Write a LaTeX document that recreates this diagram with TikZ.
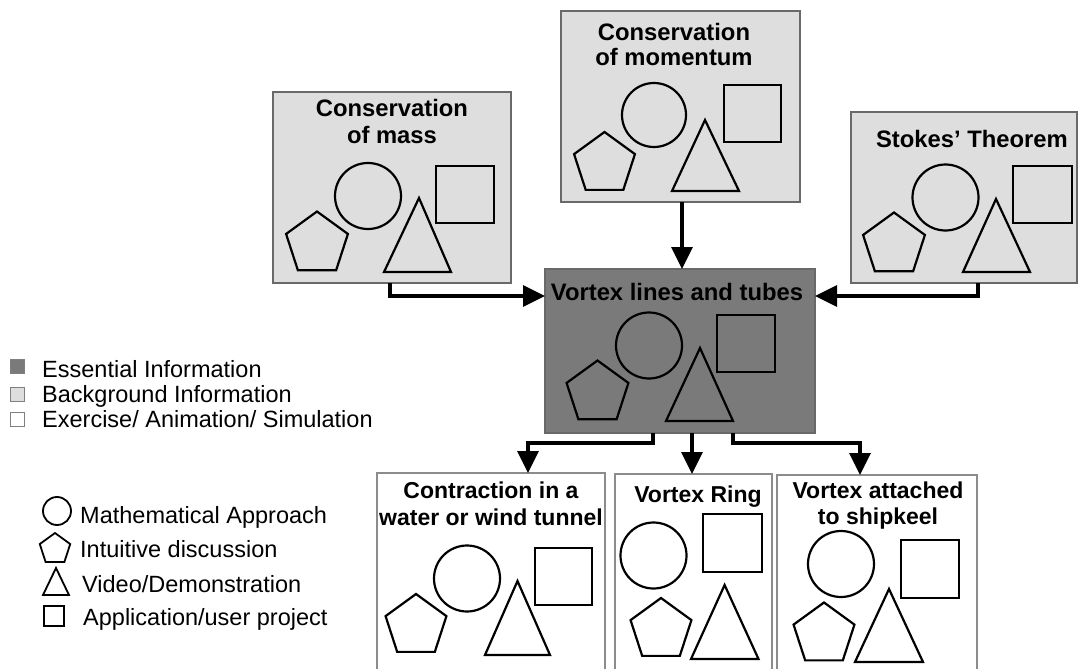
\documentclass[tikz,border=0pt]{standalone}
\usepackage{fontspec}
\setmainfont{Liberation Sans}
\usetikzlibrary{arrows.meta,shapes.geometric}

\definecolor{bglight}{RGB}{222,222,222}
\definecolor{essdark}{RGB}{122,122,122}
\definecolor{boxline}{RGB}{105,105,105}
\definecolor{exline}{RGB}{140,140,140}

\begin{document}
\begin{tikzpicture}[x=1pt,y=-1pt,
  panel/.style={draw=boxline, line width=1.2pt, inner sep=0pt, outer sep=0pt, anchor=north west},
  bgpanel/.style={panel, fill=bglight},
  esspanel/.style={panel, fill=essdark},
  expanel/.style={panel, draw=exline, fill=white},
  head/.style={font=\fontsize{23.8}{26}\selectfont\bfseries, inner sep=0pt, anchor=base},
  headsm/.style={head, font=\fontsize{23}{26}\selectfont\bfseries},
  shp/.style={draw=black, line width=2.2pt},
  pent/.style={shp, regular polygon, regular polygon sides=5, inner sep=0pt, outer sep=0pt},
  link/.style={line width=3.5pt, -{Triangle[length=22pt,width=21pt]}},
  key/.style={font=\fontsize{23.5}{26}\selectfont, inner sep=0pt, anchor=base west},
  swatch/.style={draw=gray, line width=1pt, minimum size=14pt, inner sep=0pt},
  keyshp/.style={draw=black, line width=1.8pt}
]
\clip (0,0) rectangle (1080,669);

% ---------- panels ----------
\node[bgpanel, minimum width=238pt, minimum height=191pt] (mass) at (273,92) {};
\node[bgpanel, minimum width=239pt, minimum height=191pt] (mom) at (561,11) {};
\node[bgpanel, minimum width=226pt, minimum height=171pt] (stokes) at (851,112) {};
\node[esspanel, minimum width=270pt, minimum height=164pt] (vortex) at (545,269) {};
\node[expanel, minimum width=228pt, minimum height=215pt] (contr) at (377,473) {};
\node[expanel, minimum width=157pt, minimum height=215pt] (ring) at (615,474) {};
\node[expanel, minimum width=200pt, minimum height=215pt] (keel) at (777,475) {};

% ---------- panel titles ----------
\node[head] (massT1) at (392,117) {Conservation};
\node[head] (massT2) at (392,143) {of mass};
\node[head] (momT1) at (674,41) {Conservation};
\node[head] (momT2) at (674,66) {of momentum};
\node[head] (stokesT) at (972,147) {Stokes' Theorem};
\node[head] (vortexT) at (677,300) {Vortex lines and tubes};
\node[headsm] (contrT1) at (491,498) {Contraction in a};
\node[headsm] (contrT2) at (491,525) {water or wind tunnel};
\node[headsm] (ringT) at (698,502) {Vortex Ring};
\node[headsm] (keelT1) at (878,498) {Vortex attached};
\node[headsm] (keelT2) at (878,524) {to shipkeel};

% ---------- approach symbols in each panel ----------
% Conservation of mass
\draw[shp] (368,196) circle[radius=33pt];
\draw[shp] (436,166) rectangle (494,223);
\node[pent, minimum size=65pt] (massP) at (317,244) {};
\draw[shp] (419,198) -- (451,272) -- (384,272) -- cycle;
% Conservation of momentum
\draw[shp] (654,115) circle[radius=32pt];
\draw[shp] (724,85) rectangle (781,142);
\node[pent, minimum size=64pt] (momP) at (604.5,164) {};
\draw[shp] (705,120) -- (739,191) -- (672,191) -- cycle;
% Stokes' theorem
\draw[shp] (945.5,197.5) circle[radius=33pt];
\draw[shp] (1013,166) rectangle (1072,223);
\node[pent, minimum size=65pt] (stokesP) at (894,245) {};
\draw[shp] (996,199) -- (1030,272) -- (963,272) -- cycle;
% Vortex lines and tubes
\draw[shp] (649,345.5) circle[radius=33pt];
\draw[shp] (717,315) rectangle (775,372);
\node[pent, minimum size=65pt] (vortexP) at (597.5,393) {};
\draw[shp] (700,348) -- (733,421) -- (666,421) -- cycle;
% Contraction
\draw[shp] (467,578.5) circle[radius=33pt];
\draw[shp] (535,548) rectangle (592,605);
\node[pent, minimum size=64pt] (contrP) at (416,626) {};
\draw[shp] (517.5,581) -- (550,655) -- (485,655) -- cycle;
% Vortex ring
\draw[shp] (653.5,555.5) circle[radius=33pt];
\draw[shp] (703,514) rectangle (762,572);
\node[pent, minimum size=64pt] (ringP) at (661,630) {};
\draw[shp] (724.6,585) -- (758.5,659) -- (691,659) -- cycle;
% Vortex attached to shipkeel
\draw[shp] (841,564) circle[radius=33pt];
\draw[shp] (901,540) rectangle (959,598);
\node[pent, minimum size=64pt] (keelP) at (824,634.5) {};
\draw[shp] (889,589) -- (923,662) -- (855,662) -- cycle;

% ---------- connectors ----------
\draw[link] ([xshift=-2pt]mass.south) |- ([yshift=55pt]vortex.west);
\draw[link] ([xshift=1.5pt]mom.south) -- ([xshift=2pt]vortex.north);
\draw[link] ([xshift=14pt]stokes.south) |- ([yshift=55pt]vortex.east);
\draw[link] ([xshift=-27pt]vortex.south) -- ++(0,10) -| ([xshift=37pt]contr.north);
\draw[link] ([xshift=12pt]vortex.south) -- ([xshift=-1.5pt]ring.north);
\draw[link] ([xshift=53pt]vortex.south) -- ++(0,10) -| ([xshift=-17pt]keel.north);

% ---------- legend: information level ----------
\node[swatch, fill=essdark] (kEss) at (17,366) {};
\node[swatch, fill=bglight] (kBg) at (17,394) {};
\node[swatch, fill=white] (kEx) at (17,419.5) {};
\node[key] (kEssT) at (42,377) {Essential Information};
\node[key] (kBgT) at (42,402) {Background Information};
\node[key] (kExT) at (42,427) {Exercise/ Animation/ Simulation};

% ---------- legend: approach symbols ----------
\draw[keyshp] (57,511) circle[radius=14pt];
\node[key] (kCircT) at (80,523) {Mathematical Approach};
\node[keyshp, regular polygon, regular polygon sides=5, inner sep=0pt, minimum size=32pt] (kPent) at (55,549) {};
\node[key] (kPentT) at (80,557) {Intuitive discussion};
\draw[keyshp] (56,568) -- (69,595) -- (43,595) -- cycle;
\node[key] (kTriT) at (82,592) {Video/Demonstration};
\draw[keyshp] (44,606) rectangle (64,626);
\node[key] (kSqT) at (83,625) {Application/user project};
\end{tikzpicture}
\end{document}
